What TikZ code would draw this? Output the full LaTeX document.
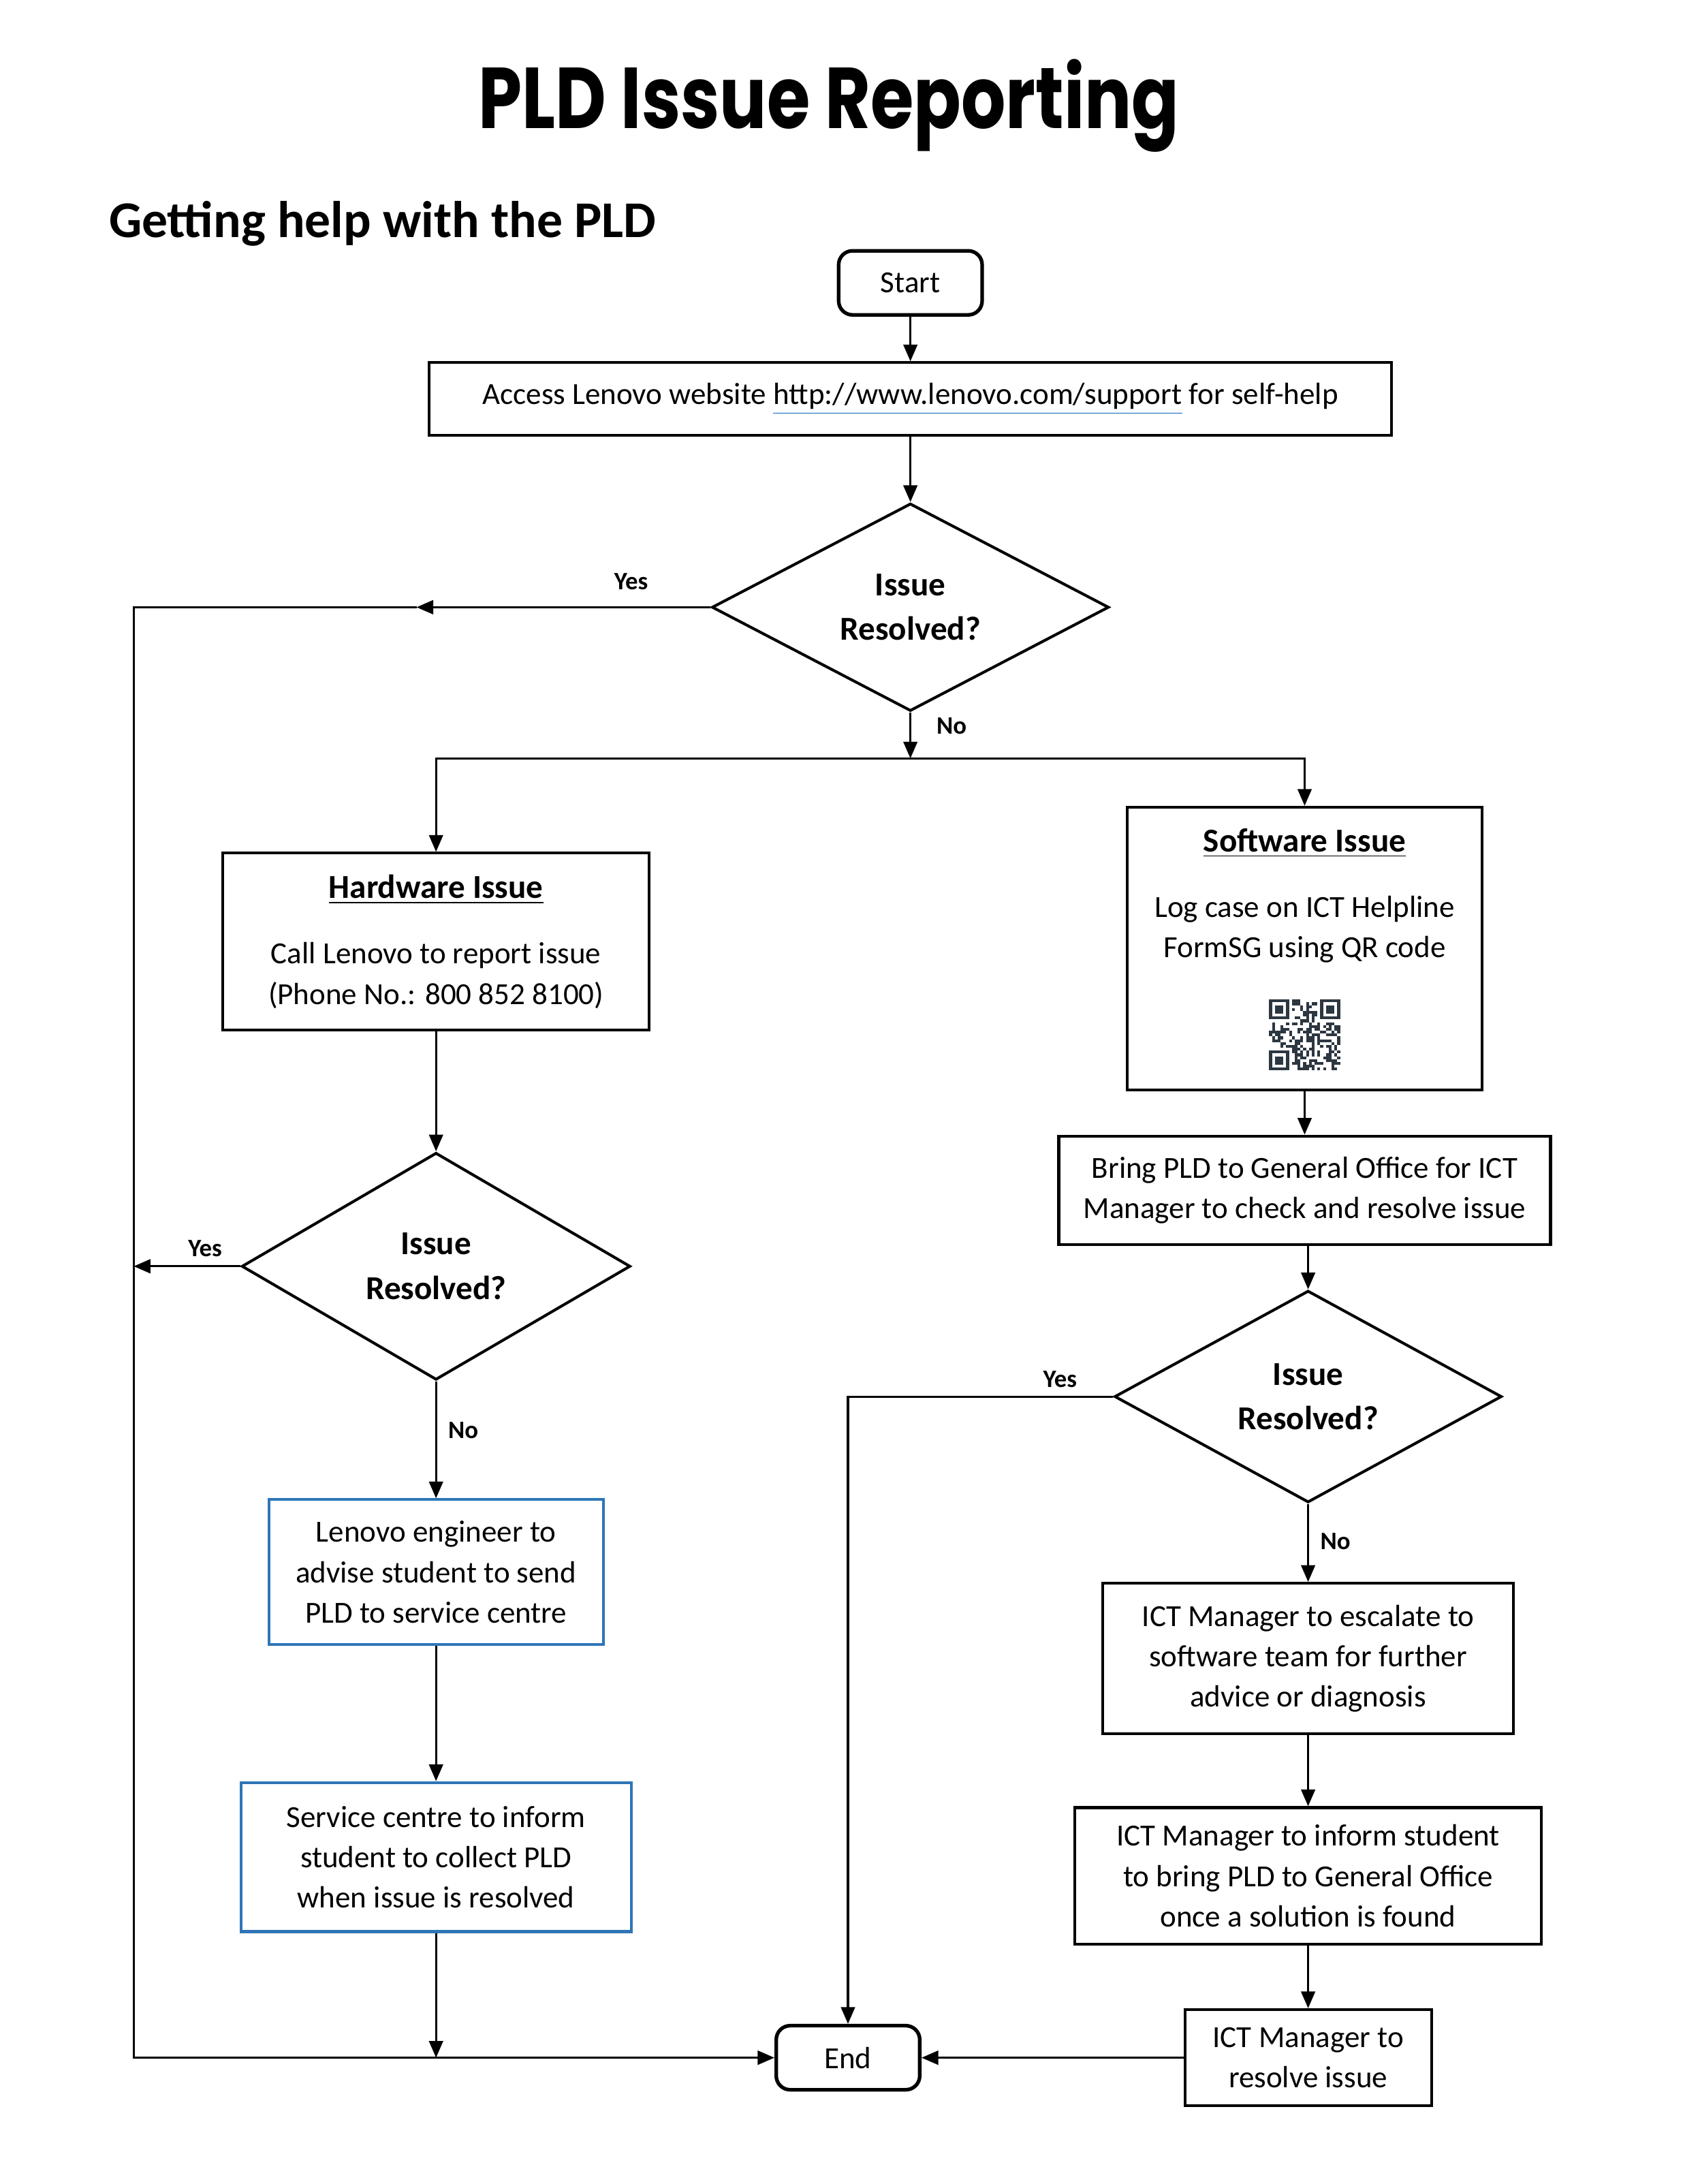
\documentclass[tikz,border=0pt]{standalone}
\usepackage{fontspec}
\setmainfont{Carlito}
\newfontfamily\titlefont{Poppins}
\usetikzlibrary{positioning,shapes.geometric,arrows.meta}
\definecolor{wblue}{RGB}{46,117,182}
\definecolor{linkblue}{RGB}{5,99,193}
\definecolor{qrgray}{RGB}{45,55,65}
\newcommand{\urlline}[1]{{\color{linkblue}\underline{\color{black}#1}}}

\begin{document}
\begin{tikzpicture}[
    x=0.25pt, y=-0.25pt,
    >={Triangle[length=6pt,width=5pt]},
    line width=0.75pt,
    stepbox/.style={rectangle, draw=black, line width=1pt, align=center, inner sep=0pt, font=\fontsize{11}{14.5}\selectfont},
    bluebox/.style={stepbox, draw=wblue},
    termbox/.style={rectangle, rounded corners=5pt, draw=black, line width=1.3pt, minimum width=51.5pt, minimum height=23pt, font=\fontsize{11}{14.5}\selectfont},
    decision/.style={diamond, aspect=2, draw=black, line width=1pt, inner sep=0pt, align=center, font=\bfseries\fontsize{12}{16}\selectfont},
    answer/.style={font=\bfseries\fontsize{9}{10}\selectfont, inner sep=1pt}
    ]
    \useasboundingbox (0,0) rectangle (2416.2,3134.9);
    %Titles
    \node[anchor=base, inner sep=0pt, font=\titlefont\bfseries\fontsize{31}{36}\selectfont] (title) at (1190,184) {\scalebox{0.81}[1]{PLD Issue Reporting}};
    \node[anchor=base west, inner sep=0pt, font=\bfseries\fontsize{18.5}{22}\selectfont] (subtitle) at (155,341) {Getting help with the PLD};

    %Nodes
    \node[termbox] (start) at (1307,406) {Start};
    \node[stepbox, minimum width=345.5pt, minimum height=26pt] (access) [below=16pt of start] {Access Lenovo website \urlline{http://www.lenovo.com/support} for self-help};
    \node[decision, minimum width=142.5pt, minimum height=74.5pt] (d1) [below=23.5pt of access] {Issue\\Resolved?};
    \coordinate[below=16.5pt of d1] (split);
    \coordinate[left=105.5pt of d1.west] (yes1);
    \coordinate[left=101.5pt of yes1] (lefttop);

    \node[stepbox, minimum width=153pt, minimum height=63.5pt] (hardware) [below=50pt of d1, xshift=-170.25pt] {\textbf{\fontsize{12}{14.5}\selectfont\underline{Hardware Issue}}\\[9pt]Call Lenovo to report issue\\(Phone No.: 800 852 8100)};
    \node[decision, minimum width=139.5pt, minimum height=81.5pt] (d2) [below=43pt of hardware] {Issue\\Resolved?};
    \node[bluebox, minimum width=120pt, minimum height=52pt] (engineer) [below=42pt of d2] {Lenovo engineer to\\advise student to send\\PLD to service centre};
    \node[bluebox, minimum width=140pt, minimum height=53.5pt] (service) [below=48.5pt of engineer] {Service centre to inform\\student to collect PLD\\when issue is resolved};

    \node[stepbox, minimum width=127.5pt, minimum height=101.5pt] (software) [below=33.5pt of d1, xshift=141.5pt] {\textbf{\fontsize{12}{14.5}\selectfont\underline{Software Issue}}\\[9pt]Log case on ICT Helpline\\FormSG using QR code\\[21pt]\strut};
    \node[stepbox, minimum width=176.5pt, minimum height=39pt] (bring) [below=15.5pt of software] {Bring PLD to General Office for ICT\\Manager to check and resolve issue};
    \node[decision, minimum width=139pt, minimum height=76pt] (d3) [below=15.5pt of bring, xshift=1.25pt] {Issue\\Resolved?};
    \node[stepbox, minimum width=147.5pt, minimum height=54pt] (escalate) [below=28pt of d3] {ICT Manager to escalate to\\software team for further\\advice or diagnosis};
    \node[stepbox, minimum width=167.5pt, minimum height=49pt] (inform) [below=25.5pt of escalate] {ICT Manager to inform student\\to bring PLD to General Office\\once a solution is found};
    \node[stepbox, minimum width=88.5pt, minimum height=34.5pt] (resolve) [below=22.5pt of inform] {ICT Manager to\\resolve issue};
    \node[termbox] (end) [left=94pt of resolve] {End};
    \coordinate (leftbot) at (lefttop |- end);

    %QR code
    \begin{scope}[shift={(software.south)}, shift={(-51,-132)}, x=1.02pt, y=-1.02pt]
        \pgfmathsetseed{42}
        \foreach \i in {0,...,24}{
            \foreach \j in {0,...,24}{
                \pgfmathtruncatemacro\fnd{(\i<8 && \j<8) || (\i>16 && \j<8) || (\i<8 && \j>16)}
                \pgfmathtruncatemacro\qron{rnd<0.5}
                \ifnum\fnd=0 \ifnum\qron=1 \fill[qrgray] (\i,\j) rectangle +(1,1); \fi\fi
            }
        }
        \foreach \a/\b in {0/0, 18/0, 0/18}{
            \fill[qrgray] (\a,\b) rectangle +(7,7);
            \fill[white] (\a+1,\b+1) rectangle +(5,5);
            \fill[qrgray] (\a+2,\b+2) rectangle +(3,3);
        }
    \end{scope}

    %Lines
    \draw[->] (start) -- (access);
    \draw[->] (access) -- (d1);
    \draw[->] (d1) -- node[answer, pos=0.3, right=8pt] {No} (split);
    \draw[->] (split) -| (hardware);
    \draw[->] (split) -| (software);
    \draw[->] (d1) -- node[answer, pos=0.27, above=5pt] {Yes} (yes1);
    \draw[->] (yes1) -- (lefttop) -- (leftbot) -- (end);
    \draw[->] (hardware) -- (d2);
    \draw[->] (d2) -- node[answer, pos=0.33, above=2pt] {Yes} (d2 -| lefttop);
    \draw[->] (d2) -- node[answer, pos=0.42, right=3pt] {No} (engineer);
    \draw[->] (engineer) -- (service);
    \draw[->] (service) -- (service |- end);
    \draw[->] (software) -- (bring);
    \draw[->] (bring.south -| d3) -- (d3);
    \draw[->] (d3) -| node[answer, pos=0.1, above=2pt] {Yes} (end);
    \draw[->] (d3) -- node[answer, pos=0.48, right=3pt] {No} (escalate);
    \draw[->] (escalate) -- (inform);
    \draw[->] (inform) -- (resolve);
    \draw[->] (resolve) -- (end);
\end{tikzpicture}
\end{document}
